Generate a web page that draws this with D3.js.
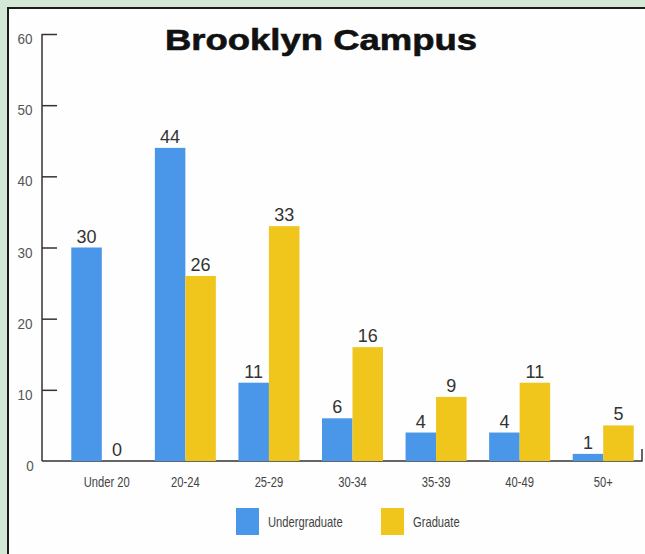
<!DOCTYPE html>
<html>
<head>
<meta charset="utf-8">
<script src="https://cdn.jsdelivr.net/npm/d3@7"></script>
<style>
  html, body { margin: 0; padding: 0; background: #d3e8d5; }
  svg { display: block; }
</style>
</head>
<body>
<svg id="chart" width="645" height="554"></svg>
<script>
const categories = ["Under 20", "20-24", "25-29", "30-34", "35-39", "40-49", "50+"];
const undergraduate = [30, 44, 11, 6, 4, 4, 1];
const graduate = [0, 26, 33, 16, 9, 11, 5];
const seriesNames = ["Undergraduate", "Graduate"];
const yTicks = [0, 10, 20, 30, 40, 50, 60];
const title = "Brooklyn Campus";

const colors = { Undergraduate: "#4a96e8", Graduate: "#f0c51c" };
const sans = "'Liberation Sans', Arial, Helvetica, sans-serif";
const narrowScale = 0.8;

const svg = d3.select("#chart");

// background frame
svg.append("rect").attr("x", 0).attr("y", 0).attr("width", 645).attr("height", 554).attr("fill", "#d3e8d5");
svg.append("rect").attr("x", 8).attr("y", 8).attr("width", 645).attr("height", 560)
  .attr("fill", "#fdfefd").attr("stroke", "#1c1c1c").attr("stroke-width", 2);

const y = d3.scaleLinear().domain([0, 60]).range([461, 34]);
const x = d3.scaleBand().domain(categories).range([60, 645]).padding(0);
const groupW = 61;
const xs = d3.scaleBand().domain(seriesNames).range([0, groupW]).padding(0);

// y axis
const yAxis = d3.axisRight(y).tickValues(yTicks).tickSize(15).tickFormat("");
const yg = svg.append("g").attr("transform", "translate(42,0)").call(yAxis);
yg.select(".domain").attr("d", `M0,${y(60)}V${y(0)}`).attr("stroke", "#333").attr("stroke-width", 1.5);
yg.selectAll(".tick line").attr("stroke", "#333").attr("stroke-width", 1.5);
yg.selectAll(".tick").filter(d => d === 0).select("line").remove();

svg.append("g").selectAll("text").data(yTicks).join("text")
  .attr("transform", d => `translate(${d === 0 ? 30 : 25},${y(d) + 10}) scale(0.9,1)`)
  .attr("text-anchor", "middle")
  .attr("font-family", sans)
  .attr("font-size", 15)
  .attr("fill", "#555")
  .text(d => d);

// x axis line
svg.append("path").attr("d", `M42,${y(0)}H642V${y(0) - 12}`)
  .attr("fill", "none").attr("stroke", "#333").attr("stroke-width", 1.5);

// data
const rows = categories.map((c, i) => ({ cat: c, vals: [
  { s: "Undergraduate", v: undergraduate[i] },
  { s: "Graduate", v: graduate[i] }
]}));

const groups = svg.append("g").selectAll("g").data(rows).join("g")
  .attr("transform", d => `translate(${x(d.cat) + x.bandwidth() / 2 - groupW / 2},0)`);

groups.selectAll("rect").data(d => d.vals).join("rect")
  .attr("x", d => xs(d.s))
  .attr("width", xs.bandwidth())
  .attr("y", d => y(d.v))
  .attr("height", d => y(0) - y(d.v))
  .attr("fill", d => colors[d.s]);

groups.selectAll("text.val").data(d => d.vals).join("text")
  .attr("class", "val")
  .attr("x", d => xs(d.s) + xs.bandwidth() / 2)
  .attr("y", d => y(d.v) - 5)
  .attr("text-anchor", "middle")
  .attr("font-family", sans)
  .attr("font-size", 18)
  .attr("fill", "#333")
  .text(d => d.v);

// category labels
svg.append("g").selectAll("text").data(categories).join("text")
  .attr("transform", d => `translate(${x(d) + x.bandwidth() / 2 + (d === "Under 20" ? 5 : 0)},487) scale(${narrowScale},1)`)
  .attr("text-anchor", "middle")
  .attr("font-family", sans)
  .attr("font-size", 14)
  .attr("fill", "#444")
  .text(d => d);

// title
svg.append("text")
  .attr("x", 165).attr("y", 50)
  .attr("font-family", sans)
  .attr("font-weight", "bold")
  .attr("font-size", 30)
  .attr("textLength", 312)
  .attr("lengthAdjust", "spacingAndGlyphs")
  .attr("fill", "#111")
  .attr("stroke", "#111")
  .attr("stroke-width", 0.6)
  .text(title);

// legend
const legendX = [236, 381];
const lg = svg.append("g").selectAll("g").data(seriesNames).join("g")
  .attr("transform", (d, i) => `translate(${legendX[i]},508)`);
lg.append("rect").attr("width", 23).attr("height", 27).attr("fill", d => colors[d]);
lg.append("text")
  .attr("transform", `translate(32,19) scale(${narrowScale},1)`)
  .attr("font-family", sans).attr("font-size", 14).attr("fill", "#444")
  .text(d => d);
</script>
</body>
</html>
